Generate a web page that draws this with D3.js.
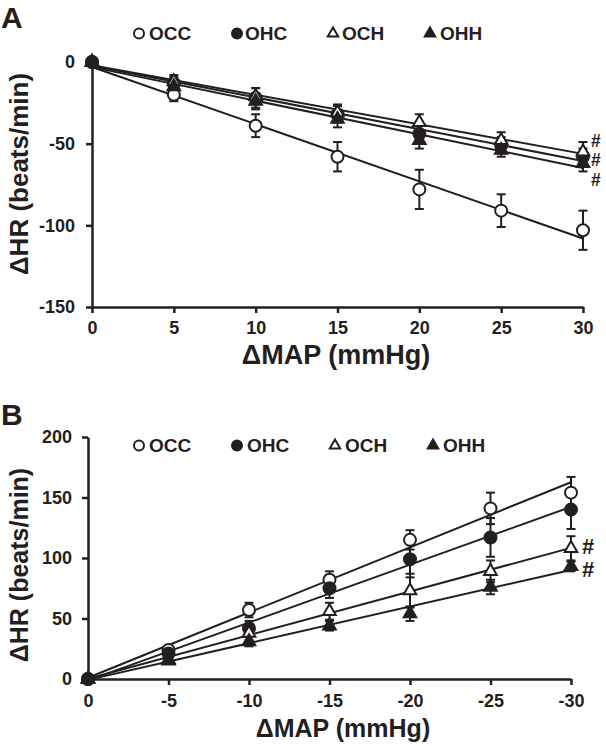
<!DOCTYPE html>
<html lang="en">
<head>
<meta charset="UTF-8">
<title>ΔHR vs ΔMAP</title>
<script src="https://d3js.org/d3.v7.min.js"></script>
<style>
    * { margin: 0; padding: 0; box-sizing: border-box; }
    html, body { width: 606px; height: 746px; background: #fff; }
    svg { display: block; font-family: "Liberation Sans", Arial, sans-serif; font-weight: bold; }
</style>
</head>
<body>
<svg id="chart" width="606" height="746"></svg>
<script>
// ---- data ----
const seriesNames = ["OCC", "OHC", "OCH", "OHH"];

// Panel A: pressure rise
const mapA = [0, 5, 10, 15, 20, 25, 30];
const occA = [0, -20, -39, -58, -78, -91, -103];
const ohcA = [0, -13, -22, -32, -44, -51, -58];
const ochA = [0, -12, -21, -31, -37, -48, -55];
const ohhA = [0, -15, -24, -35, -48, -54, -62];
const occAErr = [0, 4, 7, 9, 12, 10, 12];
const ohcAErr = [0, 4, 6, 5, 5, 5, 5];
const ochAErr = [0, 4, 5, 5, 5, 5, 6];
const ohhAErr = [0, 4, 5, 5, 5, 4, 5];
const yTicksA = [0, -50, -100, -150];
const hashA = ["OCH", "OHC", "OHH"];

// Panel B: pressure fall
const mapB = [0, -5, -10, -15, -20, -25, -30];
const occB = [0, 24, 57, 82, 115, 141, 154];
const ohcB = [0, 21, 42, 75, 99, 117, 140];
const ochB = [0, 16, 38, 56, 73, 89, 108];
const ohhB = [0, 15, 31, 44, 54, 76, 93];
const occBErr = [0, 3, 6, 7, 8, 13, 13];
const ohcBErr = [0, 3, 6, 8, 15, 16, 16];
const ochBErr = [0, 3, 6, 7, 14, 9, 10];
const ohhBErr = [0, 2, 4, 4, 6, 6, 4];
const yTicksB = [0, 50, 100, 150, 200];
const hashB = ["OCH", "OHH"];

const svg = d3.select("#chart");

const style = {
    OCC: { shape: "circle", fill: "#fff" },
    OHC: { shape: "circle", fill: "#231f20" },
    OCH: { shape: "triangle", fill: "#fff" },
    OHH: { shape: "triangle", fill: "#231f20" }
};
const ink = "#231f20";

function fit(xs, ys) {
    const mx = d3.mean(xs), my = d3.mean(ys);
    let sxy = 0, sxx = 0;
    xs.forEach((x, i) => { sxy += (x - mx) * (ys[i] - my); sxx += (x - mx) * (x - mx); });
    const b = sxy / sxx;
    return { a: my - b * mx, b: b };
}

function marker(g, name, cx, cy, r) {
    const s = style[name];
    if (s.shape === "circle") {
        g.append("circle").attr("cx", cx).attr("cy", cy).attr("r", r)
            .attr("fill", s.fill).attr("stroke", ink).attr("stroke-width", 2);
    } else {
        const side = r * 2.1;
        g.append("path")
            .attr("d", d3.symbol(d3.symbolTriangle, side * side * Math.sqrt(3) / 4)())
            .attr("transform", `translate(${cx},${cy})`)
            .attr("fill", s.fill).attr("stroke", ink).attr("stroke-width", 2)
            .attr("stroke-linejoin", "miter");
    }
}

function drawPanel(p) {
    const g = svg.append("g");
    const x = d3.scaleLinear().domain(p.xDomain).range(p.xRange);
    const y = d3.scaleLinear().domain(p.yDomain).range(p.yRange);
    const plain = d => String(d);   // hyphen-minus like the original

    // axes
    const xAxis = g.append("g")
        .attr("transform", `translate(0,${p.xAxisY})`)
        .call(d3.axisBottom(x).tickValues(p.xs).tickFormat(plain)
            .tickSize(6).tickSizeOuter(0).tickPadding(p.xPad));
    const yAxis = g.append("g")
        .attr("transform", `translate(${p.xRange[0]},0)`)
        .call(d3.axisLeft(y).tickValues(p.yTicks).tickFormat(plain)
            .tickSize(6).tickSizeOuter(0).tickPadding(p.yPad));
    [xAxis, yAxis].forEach(a => {
        a.attr("font-family", null).attr("font-size", 18);
        a.selectAll("path, line").attr("stroke", ink).attr("stroke-width", 2.5);
        a.selectAll("text").attr("fill", ink);
    });

    // regression lines
    p.series.forEach(s => {
        const f = fit(p.xs, s.v);
        const x0 = p.xDomain[0], x1 = p.xDomain[1];
        g.append("line")
            .attr("x1", x(x0)).attr("y1", y(f.a + f.b * x0))
            .attr("x2", x(x1)).attr("y2", y(f.a + f.b * x1))
            .attr("stroke", ink).attr("stroke-width", 2);
    });

    // error bars and markers
    p.series.forEach(s => {
        p.xs.forEach((xv, i) => {
            const e = s.e[i];
            if (e <= 0) return;
            const cx = x(xv), top = y(s.v[i] + e), bot = y(s.v[i] - e);
            g.append("line").attr("x1", cx).attr("x2", cx).attr("y1", top).attr("y2", bot)
                .attr("stroke", ink).attr("stroke-width", 2);
            [top, bot].forEach(yy => g.append("line")
                .attr("x1", cx - 4.5).attr("x2", cx + 4.5).attr("y1", yy).attr("y2", yy)
                .attr("stroke", ink).attr("stroke-width", 2));
        });
    });
    p.series.forEach(s => {
        p.xs.forEach((xv, i) => marker(g, s.name, x(xv), y(s.v[i]), 6));
    });

    // significance marks beside the last points
    const first = p.series.find(d => d.name === p.hash[0]);
    const last = first.v.length - 1;
    let hy = y(first.v[last]) + p.hashDy[0];
    p.hash.forEach((h, k) => {
        if (k > 0) hy += p.hashDy[k];
        g.append("text").attr("x", p.hashX).attr("y", hy)
            .attr("font-size", p.hashSize).attr("fill", ink).text("#");
    });

    // legend
    const lg = g.append("g");
    seriesNames.forEach((name, i) => {
        marker(lg, name, p.legendSym[i], p.legendY - 6.5, 5);
        lg.append("text").attr("x", p.legendText[i]).attr("y", p.legendY)
            .attr("font-size", 19).attr("fill", ink).text(name);
    });

    // titles
    g.append("text").attr("x", p.xLabel[0]).attr("y", p.xLabel[1])
        .attr("text-anchor", "middle").attr("font-size", p.xLabelSize).attr("fill", ink)
        .text("ΔMAP (mmHg)");
    g.append("text")
        .attr("transform", `translate(${p.yLabel[0]},${p.yLabel[1]}) rotate(-90)`)
        .attr("text-anchor", "middle").attr("font-size", p.yLabelSize).attr("fill", ink)
        .text("ΔHR (beats/min)");
    g.append("text").attr("x", 1).attr("y", p.letterY)
        .attr("font-size", 30).attr("fill", ink).text(p.letter);
}

drawPanel({
    letter: "A", letterY: 28,
    xs: mapA, xDomain: [0, 30], xRange: [92, 583],
    yDomain: [-150, 0], yRange: [307, 62], yTicks: yTicksA,
    xAxisY: 307, xPad: 8, yPad: 11,
    series: [
        { name: "OCC", v: occA, e: occAErr },
        { name: "OHC", v: ohcA, e: ohcAErr },
        { name: "OCH", v: ochA, e: ochAErr },
        { name: "OHH", v: ohhA, e: ohhAErr }
    ],
    hash: hashA, hashX: 591, hashDy: [-5, 19.6, 19.6], hashSize: 17.5,
    legendY: 40, legendSym: [139, 237, 333, 430], legendText: [149, 245, 342, 440],
    xLabel: [336, 364], xLabelSize: 27,
    yLabel: [28, 174], yLabelSize: 26
});

drawPanel({
    letter: "B", letterY: 425,
    xs: mapB, xDomain: [0, -30], xRange: [88, 571],
    yDomain: [0, 200], yRange: [679, 437], yTicks: yTicksB,
    xAxisY: 679, xPad: 9, yPad: 10,
    series: [
        { name: "OCC", v: occB, e: occBErr },
        { name: "OHC", v: ohcB, e: ohcBErr },
        { name: "OCH", v: ochB, e: ochBErr },
        { name: "OHH", v: ohhB, e: ohhBErr }
    ],
    hash: hashB, hashX: 582, hashDy: [6, 23], hashSize: 22,
    legendY: 452, legendSym: [139, 237, 335, 433], legendText: [149, 247, 345, 443],
    xLabel: [343, 737], xLabelSize: 25,
    yLabel: [28, 565], yLabelSize: 25
});
</script>
</body>
</html>
